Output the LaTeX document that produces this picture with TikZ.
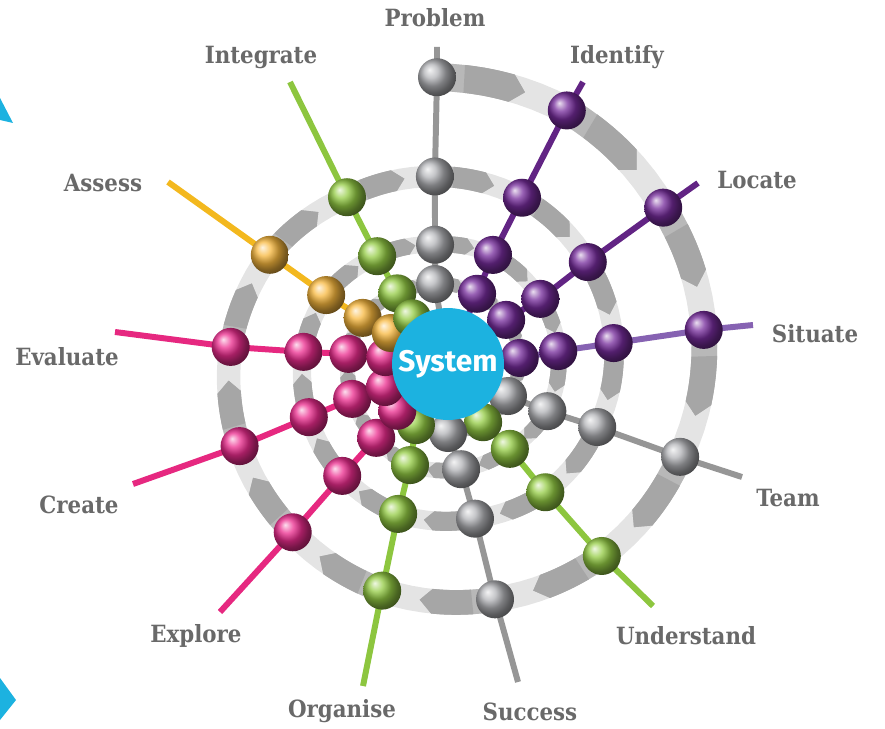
\documentclass[tikz,border=0pt]{standalone}
\usepackage{fontspec}
\setmainfont{DejaVu Serif Condensed}
\setsansfont{Fira Sans}
\usetikzlibrary{calc}
\definecolor{clabel}{RGB}{105,105,105}
\definecolor{ccyan}{RGB}{28,178,224}
\definecolor{ctrack}{RGB}{228,228,228}
\definecolor{cchevA}{RGB}{184,184,184}
\definecolor{cchevB}{RGB}{166,166,166}
\definecolor{cgrayline}{RGB}{150,150,150}
\definecolor{cgrayball}{RGB}{178,179,183}
\definecolor{cpurpline}{RGB}{98,36,132}
\definecolor{cvioline}{RGB}{134,98,178}
\definecolor{cpurpball}{RGB}{118,44,156}
\definecolor{cgreenline}{RGB}{141,198,63}
\definecolor{cgreenball}{RGB}{148,204,68}
\definecolor{cpinkline}{RGB}{230,40,128}
\definecolor{cpinkball}{RGB}{236,44,142}
\definecolor{corangeline}{RGB}{243,184,30}
\definecolor{corangeball}{RGB}{248,184,62}
% ball positions on the spiral (angle/radius around the centre), outer turn first
\def\spiraldata{92.2/287,64.9/280,36.0/266,7.6/258,-21.8/250,-51.3/246,-78.7/240,%
-106.2/236,-132.7/229,-158.5/224,-184.5/218,-211.5/209,-238.8/195,%
-266.0/188,-294.0/182,-323.9/173,-352.8/167,-382.9/162,-412.8/161,-440.1/157,%
-468.4/158,-493.4/154,-519.1/149,-544.8/145,-569.5/140,-596.7/129,%
-623.8/120,-652.4/118,-684.8/113,-713.3/111,-745.4/110,-773.9/105,-802.9/106,%
-830.6/108,-854.2/103,-880.0/102,-905.8/100,-928.4/97,-954.3/87,%
-980.8/81,-1012.5/76,-1042.8/73,-1075.2/72,-1108.1/68,-1138.9/68,-1170/69,%
-1197.7/69,-1217.3/69,-1239.9/67,-1266.3/63,-1288.5/65,-1312/58}
% name/line colour/ball colour/free end/label position
\def\spokes{%
Problem/cgrayline/cgrayball/437/681/435/710,%
Identify/cpurpline/cpurpball/583/646/617/671,%
Locate/cpurpline/cpurpball/698/545/757/548,%
Situate/cvioline/cpurpball/753/403/815/394,%
Team/cgrayline/cgrayball/742/251/788/230,%
Understand/cgreenline/cgreenball/653/122/686/92,%
Success/cgrayline/cgrayball/518/46/530/16,%
Organise/cgreenline/cgreenball/363/42/342/17,%
Explore/cpinkline/cpinkball/220/116/196/92,%
Create/cpinkline/cpinkball/133/244/79/223,%
Evaluate/cpinkline/cpinkball/115/396/67/371,%
Assess/corangeline/corangeball/168/546/103/545,%
Integrate/cgreenline/cgreenball/290/646/261/671}
\newcommand{\tracksegment}[4]{%
  \pgfmathsetmacro{\hw}{4+0.0175*(#2+#4)}%
  \pgfmathsetmacro{\lw}{2*\hw*0.569}%
  \pgfmathsetmacro{\dt}{\hw/(abs(#3-#1)/180*pi*(#2+#4)/2)}%
  \pgfmathsetmacro{\te}{0.66-\dt}%
  \draw[ctrack,line width=\lw pt] plot[domain=0:1,samples=9,variable=\t]
    ({#1+(#3-#1)*\t}:{#2+(#4-#2)*\t});
  \foreach \st/\cc in {0.0/cchevA,0.2/cchevB}{
    \fill[\cc] plot[domain=\st:\te,samples=6,variable=\t]
        ({#1+(#3-#1)*\t}:{#2+(#4-#2)*\t+\hw})
      -- ({#1+(#3-#1)*0.66}:{#2+(#4-#2)*0.66})
      -- plot[domain=\te:\st,samples=6,variable=\t]
        ({#1+(#3-#1)*\t}:{#2+(#4-#2)*\t-\hw}) -- cycle;}}

\begin{document}
\begin{tikzpicture}[
  x=0.02cm,y=0.02cm,
  spoke/.style={line width=3.4pt},
  lbl/.style={text=clabel,font=\fontsize{13.5}{16}\selectfont\bfseries},
  sysnode/.style={circle,fill=ccyan,minimum size=2.24cm,inner sep=0pt,
    text=white,font=\sffamily\bfseries\fontsize{17}{20}\selectfont},
]
\useasboundingbox (0,0) rectangle (885,728);
\coordinate (C) at (448,364);

% ===== SPIRAL TRACK =====
\begin{scope}[shift={(C)}]
\foreach \a/\r [count=\s, remember=\a as \ap (initially 0),
                remember=\r as \rp (initially 0)] in \spiraldata {
  \coordinate (p\s) at (\a:\r);
  \ifnum\s>1 \tracksegment{\ap}{\rp}{\a}{\r}\fi
}
\end{scope}

% ===== SPOKES + LABELS =====
\foreach \nm/\lc/\bc/\ex/\ey/\tx/\ty [count=\i] in \spokes {
  \pgfmathtruncatemacro{\ia}{\i+13}
  \pgfmathtruncatemacro{\ib}{\i+26}
  \pgfmathtruncatemacro{\ic}{\i+39}
  \coordinate (end-\i) at (\ex,\ey);
  \node[lbl] (lbl-\i) at (\tx,\ty) {\nm};
  \draw[spoke,\lc] (end-\i) -- (p\i) -- (p\ia) -- (p\ib) -- (p\ic) -- (C);
}

% ===== BALLS (outer turn first) =====
\foreach \k in {0,...,3}{
  \foreach \nm/\lc/\bc/\ex/\ey/\tx/\ty [count=\i] in \spokes {
    \pgfmathtruncatemacro{\s}{\i+13*\k}
    \shade[ball color=\bc] (p\s) circle (19);
  }
}

% ===== CENTRE =====
\node[sysnode] (sys) at (C) {System};

% ===== cut-off marks at the left edge =====
\fill[ccyan] (0,630) -- (13,605) -- (0,608) -- cycle;
\fill[ccyan] (0,50) -- (16,28) -- (0,8) -- cycle;
\end{tikzpicture}
\end{document}
